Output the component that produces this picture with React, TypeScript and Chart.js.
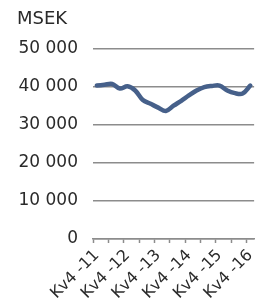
import React, { useEffect, useRef } from "react";
import { Chart, registerables } from "chart.js";

Chart.register(...registerables);

const quarters: string[] = [
  "Kv4 -11",
  "Kv1 -12", "Kv2 -12", "Kv3 -12", "Kv4 -12",
  "Kv1 -13", "Kv2 -13", "Kv3 -13", "Kv4 -13",
  "Kv1 -14", "Kv2 -14", "Kv3 -14", "Kv4 -14",
  "Kv1 -15", "Kv2 -15", "Kv3 -15", "Kv4 -15",
  "Kv1 -16", "Kv2 -16", "Kv3 -16", "Kv4 -16",
];

const values: number[] = [
  40300, 40500, 40700, 39500, 40100, 39000, 36500, 35500, 34500, 33600,
  35000, 36300, 37700, 39000, 39900, 40200, 40300, 39000, 38300, 38200, 40300,
];

const yTicks: number[] = [0, 10000, 20000, 30000, 40000, 50000];

const unitLabel = "MSEK";

const FONT = "'DejaVu Sans', sans-serif";

function fmt(v: number): string {
  return String(v).replace(/\B(?=(\d{3})+(?!\d))/g, " ");
}

export default function App() {
  const ref = useRef<HTMLCanvasElement | null>(null);

  useEffect(() => {
    document.body.style.margin = "0";
    const canvas = ref.current;
    if (!canvas) return;
    const chart = new Chart(canvas, {
      type: "line",
      data: {
        labels: quarters,
        datasets: [
          {
            data: values,
            borderColor: "#46608a",
            borderWidth: 4.5,
            pointRadius: 0,
            tension: 0.35,
            fill: false,
            borderCapStyle: "round",
            borderJoinStyle: "round",
          },
        ],
      },
      options: {
        responsive: false,
        animation: false,
        layout: { padding: { left: 17, right: 6, top: 0, bottom: 0 } },
        plugins: {
          legend: { display: false },
          tooltip: { enabled: false },
          title: {
            display: true,
            text: unitLabel,
            align: "start",
            color: "#2a2a2a",
            font: { family: FONT, size: 18, weight: "normal" },
            padding: { top: 9, bottom: 18 },
          },
        },
        scales: {
          x: {
            type: "category",
            offset: true,
            border: { display: true, color: "#8c8c8c", width: 1.5 },
            grid: {
              offset: true,
              drawOnChartArea: false,
              drawTicks: true,
              tickLength: 4,
              tickWidth: 1.5,
              tickColor: (ctx: any) => (ctx.index % 2 === 0 ? "#8c8c8c" : "rgba(0,0,0,0)"),
            },
            ticks: {
              autoSkip: false,
              minRotation: 45,
              maxRotation: 45,
              padding: 3,
              color: "#2a2a2a",
              font: { family: FONT, size: 16 },
              callback: (_v: any, i: number) => (i % 4 === 0 ? quarters[i] : ""),
            },
            afterFit: (scale: any) => {
              scale.height = 63;
            },
          },
          y: {
            min: 0,
            max: 50000,
            border: { display: false },
            grid: {
              color: "#8c8c8c",
              lineWidth: 1.5,
              drawTicks: false,
            },
            afterBuildTicks: (scale: any) => {
              scale.ticks = yTicks.map((v) => ({ value: v }));
            },
            ticks: {
              padding: 15,
              color: "#2a2a2a",
              font: { family: FONT, size: 17 },
              callback: (v: any) => fmt(Number(v)),
            },
            afterFit: (scale: any) => {
              scale.width = 76;
            },
          },
        },
      },
    });
    return () => chart.destroy();
  }, []);

  return (
    <div style={{ position: "absolute", left: 0, top: 0, width: 267, height: 302 }}>
      <canvas ref={ref} width={267} height={302} style={{ display: "block" }} />
    </div>
  );
}
